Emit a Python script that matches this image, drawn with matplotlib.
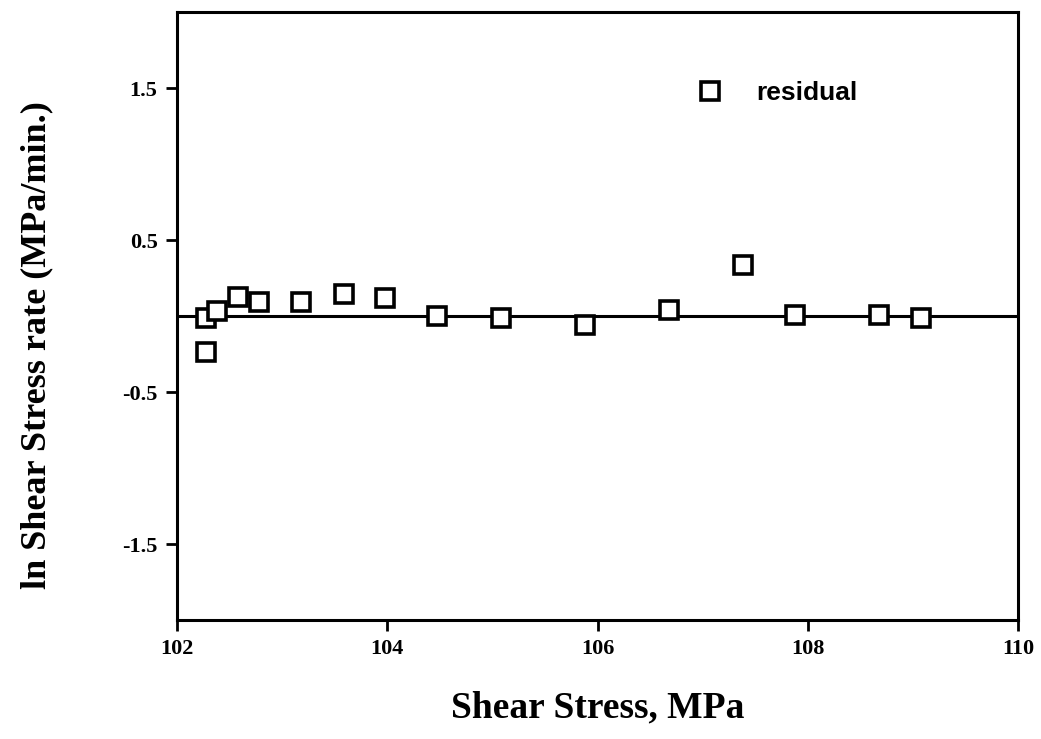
import matplotlib
matplotlib.use("Agg")
import matplotlib.pyplot as plt

shear_stress = [102.28, 102.28, 102.38, 102.58, 102.78, 103.18, 103.59, 103.98,
                104.47, 105.08, 105.88, 106.68, 107.38, 107.88, 108.68, 109.08]
residual = [-0.01, -0.24, 0.03, 0.125, 0.09, 0.09, 0.145, 0.12,
            0.0, -0.01, -0.06, 0.04, 0.335, 0.005, 0.005, -0.015]
x_ticks = [102, 104, 106, 108, 110]
y_ticks = [1.5, 0.5, -0.5, -1.5]
y_ticklabels = ["1.5", "0.5", "-0.5", "-1.5"]

fig = plt.figure(figsize=(10.41, 7.39), dpi=100)
ax = fig.add_axes([177/1041, 1-620/739, (1018-177)/1041, (620-12)/739])

ax.axhline(0, color="black", lw=2.2, zorder=1)
ax.plot(shear_stress, residual, linestyle="none", marker="s", markersize=12.5,
        markerfacecolor="white", markeredgecolor="black", markeredgewidth=2.6,
        label="residual", zorder=3)

ax.set_xlim(102, 110)
ax.set_ylim(-2, 2)
ax.set_xticks(x_ticks)
ax.set_yticks(y_ticks)
ax.set_yticklabels(y_ticklabels)

for s in ax.spines.values():
    s.set_linewidth(2.2)
ax.tick_params(direction="out", length=8, width=2, pad=6)
for lab in ax.get_xticklabels() + ax.get_yticklabels():
    lab.set_fontfamily("Liberation Serif")
    lab.set_fontweight("bold")
    lab.set_fontsize(16)

ax.set_xlabel("Shear Stress, MPa", fontfamily="Liberation Serif", fontweight="bold",
              fontsize=27, labelpad=22)
ax.set_ylabel("ln Shear Stress rate (MPa/min.)", fontfamily="Liberation Serif",
              fontweight="bold", fontsize=26)
ax.yaxis.set_label_coords(-0.147, 0.452)

leg = ax.legend(loc="upper left", bbox_to_anchor=(0.574, 0.925), frameon=False,
                prop={"family": "Liberation Sans", "weight": "bold", "size": 19},
                handletextpad=0.75, numpoints=1)

fig.savefig("out.png", dpi=100)
